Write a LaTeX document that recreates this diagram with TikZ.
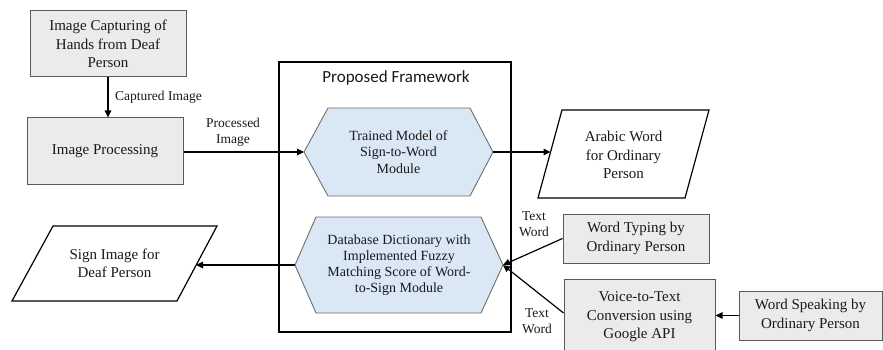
\documentclass[tikz,border=0pt]{standalone}
\usepackage{fontspec}
\setmainfont{Liberation Serif}
\newfontfamily\tnr{Liberation Serif}
\newfontfamily\calib{Carlito}
\usetikzlibrary{arrows.meta}
\definecolor{boxgray}{RGB}{235,235,235}
\definecolor{boxline}{RGB}{90,90,90}
\definecolor{hexblue}{RGB}{218,231,245}
\definecolor{hexline}{RGB}{110,110,110}
\definecolor{txt}{RGB}{25,25,25}
\tikzset{
  graybox/.style={draw=boxline, fill=boxgray, line width=1pt, align=center, text=txt,
    font=\tnr\fontsize{15}{18.5}\selectfont, inner sep=0pt},
  hexshape/.style={draw=hexline, fill=hexblue, line width=0.9pt},
  paral/.style={draw=black, fill=white, line width=1.2pt},
  boxtext/.style={align=center, text=txt, font=\tnr\fontsize{15}{18.5}\selectfont, inner sep=0pt},
  hextext/.style={align=center, text=txt, font=\tnr\fontsize{14}{16.2}\selectfont, inner sep=0pt},
  lbl/.style={align=center, text=txt, font=\tnr\fontsize{13.5}{16.5}\selectfont, inner sep=0pt},
  conn/.style={draw=black, line width=1.2pt, -{Triangle[length=7pt,width=6.5pt]}},
}
\begin{document}
\begin{tikzpicture}[x=1pt,y=-1pt]
\useasboundingbox (0,0) rectangle (883,350);

% left column
\node[graybox, minimum width=156, minimum height=66] (cap) at (108,44)
  {Image Capturing of\\Hands from Deaf\\Person};
\node[graybox, minimum width=156, minimum height=66] (proc) at (105,151)
  {Image Processing};

% framework
\draw[line width=1.3pt] (279,62) rectangle (511,332);
\node[font=\calib\fontsize{17}{20}\selectfont, text=txt, inner sep=0pt] (title) at (396,78) {Proposed Framework};

% hexagon 1
\draw[hexshape] (304,152) -- (328,108) -- (470,108) -- (493,152) -- (470,196) -- (328,196) -- cycle;
\coordinate (hAw) at (304,152);
\coordinate (hAe) at (493,152);
\node[hextext] (hA) at (398.5,152) {Trained Model of\\Sign-to-Word\\Module};

% hexagon 2
\draw[hexshape] (295,265) -- (316,217) -- (481,217) -- (503,265) -- (481,313) -- (316,313) -- cycle;
\coordinate (hBw) at (295,265);
\coordinate (hBe) at (503,265);
\node[hextext] (hB) at (399,265) {Database Dictionary with\\Implemented Fuzzy\\Matching Score of Word-\\to-Sign Module};

% Arabic word parallelogram
\draw[paral] (562,110) -- (709,110) -- (685,198) -- (538,198) -- cycle;
\coordinate (arW) at (550.5,152);
\node[boxtext] (ar) at (623.5,155) {Arabic Word\\for Ordinary\\Person};

% Sign image parallelogram
\draw[paral] (53,226) -- (217,226) -- (177,301) -- (12,301) -- cycle;
\coordinate (sgE) at (196,265);
\node[boxtext] (sg) at (114.5,263.5) {Sign Image for\\Deaf Person};

% right boxes
\node[graybox, minimum width=146, minimum height=49] (typ) at (636,238.5)
  {Word Typing by\\Ordinary Person};
\node[graybox, minimum width=151, minimum height=76] (voice) at (639.5,317)
  {Voice-to-Text\\Conversion using\\Google API};
\node[graybox, minimum width=143, minimum height=49] (spk) at (810.5,315.5)
  {Word Speaking by\\Ordinary Person};

% connectors
\draw[conn] (cap.south) -- (cap.south |- proc.north);
\draw[conn] (proc.east |- hAw) -- (hAw);
\draw[conn] (hAe) -- (arW);
\draw[conn] (hBw) -- (sgE);
\draw[conn] (typ.west) -- (hBe);
\draw[conn] ([yshift=4pt]voice.west) -- (hBe);
\draw[conn] (spk.west) -- (voice.east |- spk.west);

% labels
\node[lbl] (l1) at (158.5,97) {Captured Image};
\node[lbl] (l2) at (233,132.5) {Processed\\Image};
\node[lbl] (l3) at (534,224) {Text\\Word};
\node[lbl] (l4) at (537,321) {Text\\Word};
\end{tikzpicture}
\end{document}
